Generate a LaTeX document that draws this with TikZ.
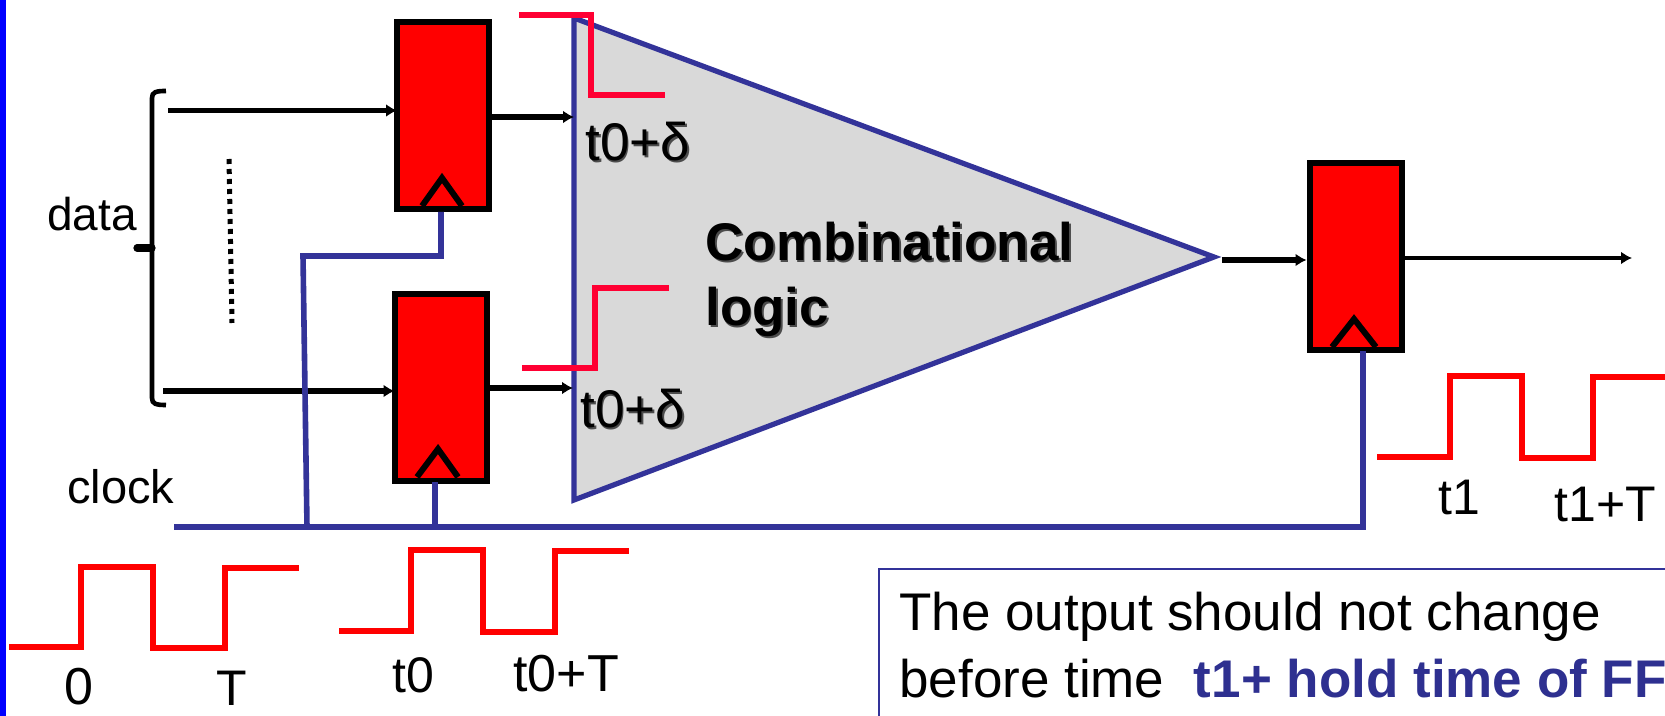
\documentclass[tikz,border=0pt]{standalone}
\usepackage{fontspec}
\setmainfont{Liberation Sans}
\usetikzlibrary{arrows.meta}
\definecolor{logicblue}{HTML}{333399}
\definecolor{holdblue}{HTML}{2E3090}
\definecolor{pulsered}{HTML}{FF0033}
\definecolor{logicgray}{HTML}{D9D9D9}
\newcommand{\softshadow}[1]{\leavevmode\rlap{\kern0.9pt\raisebox{-0.9pt}{\textcolor{black!70}{#1}}}#1}
\tikzset{
  ffbox/.style={draw=black,fill=red,line width=3pt,minimum width=46pt,inner sep=0pt},
  clkmark/.style={line width=3pt,line join=miter},
  sigline/.style={line width=2.6pt,-{Latex[length=5.5pt,width=6.5pt]}},
  clkline/.style={draw=logicblue,line width=2.8pt},
  wave/.style={draw=red,line width=3pt},
  hazard/.style={draw=pulsered,line width=3pt},
  lbl/.style={anchor=base west,inner sep=0pt,font=\fontsize{25}{25}\selectfont},
}
\begin{document}
\begin{tikzpicture}[x=0.5pt,y=-0.5pt]
  \clip (0,0) rectangle (1665,716);
  \fill[blue] (0,0) rectangle (5.5,716);
  % logic cone
  \coordinate (conetop) at (574,18);
  \coordinate (conebot) at (574,500);
  \coordinate (coneapex) at (1214,257);
  \filldraw[fill=logicgray,draw=logicblue,line width=2.6pt] (conetop) -- (coneapex) -- (conebot) -- cycle;
  \node[lbl,font=\fontsize{26.5}{32.5}\selectfont\bfseries,align=left,anchor=north west] (comb) at (705,222) {\softshadow{Combinational}\\\softshadow{logic}};
  % flip flops
  \node[ffbox,minimum height=93.5pt] (ff1) at (443,115.5) {};
  \node[ffbox,minimum height=93.5pt] (ff2) at (440.5,387.5) {};
  \node[ffbox,minimum height=93.5pt] (ff3) at (1355.5,257) {};
  \draw[clkmark] (422,206) -- (442,178) -- (462,206);
  \draw[clkmark] (417,477) -- (438,449) -- (458,477);
  \draw[clkmark] (1332,347) -- (1354,319) -- (1376,347);
  % data side
  \coordinate (din1) at (168,110.5);
  \coordinate (din2) at (163,391);
  \coordinate (cin1) at (574,117);
  \coordinate (cin2) at (573,388);
  \coordinate (lout) at (1222,260);
  \coordinate (qout) at (1632,258);
  \draw[line width=2.3pt] (166,91) .. controls (156,91) and (152,92) .. (152,98) -- (152,398) .. controls (152,404) and (156,405) .. (166,405);
  \draw[line width=3.6pt,line cap=round] (137,248) -- (152,248);
  \draw[line width=2.5pt,dash pattern=on 2.5pt off 2.5pt] (229,159) -- (232,323);
  \draw[sigline,shorten >=-1.5pt] (din1) -- (din1 -| ff1.west);
  \draw[sigline,shorten >=-1.5pt] (din2) -- (din2 -| ff2.west);
  \draw[sigline] (cin1 -| ff1.east) -- (cin1);
  \draw[sigline] (cin2 -| ff2.east) -- (cin2);
  \draw[sigline] (lout) -- (lout -| ff3.west);
  \draw[sigline,line width=2.1pt] (qout -| ff3.east) -- (qout);
  % clock net
  \coordinate (clkstart) at (174,527);
  \coordinate (clkturn) at (1363,527);
  \draw[clkline] (clkstart) -- (clkturn) -- (1363,351);
  \draw[clkline] (ff1.south -| 441,0) -- (441,256) -- (303,256) -- (307,527);
  \draw[clkline] (435,482) -- (435,527);
  % pulses at the cone
  \draw[hazard] (519,15) -- (591,15) -- (591,95) -- (665,95);
  \draw[hazard] (669,288) -- (595,288) -- (595,368) -- (522,368);
  \node[lbl,font=\fontsize{26.5}{26.5}\selectfont] (d1) at (585,161) {\softshadow{t0+δ}};
  \node[lbl,font=\fontsize{26.5}{26.5}\selectfont] (d2) at (580,428) {\softshadow{t0+δ}};
  % clock waveforms
  \draw[wave] (9,647) -- (81,647) -- (81,567) -- (153,567) -- (153,648) -- (225,648) -- (225,568) -- (299,568);
  \draw[wave] (339,631) -- (411,631) -- (411,550) -- (483,550) -- (483,632) -- (555,632) -- (555,551) -- (629,551);
  \draw[wave] (1377,457) -- (1450,457) -- (1450,376) -- (1522,376) -- (1522,458) -- (1593,458) -- (1593,377) -- (1670,377);
  % labels
  \node[lbl,font=\fontsize{23}{23}\selectfont] (data) at (47,231) {data};
  \node[lbl,font=\fontsize{23.5}{23.5}\selectfont] (clock) at (67,503) {clock};
  \node[lbl,font=\fontsize{26}{26}\selectfont] (zero) at (64,704) {0};
  \node[lbl] (tt) at (216,705) {T};
  \node[lbl] (t0) at (392,692) {t0};
  \node[lbl,font=\fontsize{26}{26}\selectfont] (t0T) at (513,691) {t0+T};
  \node[lbl] (t1) at (1438,515) {t1};
  \node[lbl] (t1T) at (1554,521) {t1+T};
  % note
  \draw[draw=logicblue,line width=1.4pt] (879,725) -- (879,569) -- (1675,569);
  \node[lbl,font=\fontsize{26.5}{33.5}\selectfont,align=left,anchor=north west] (note) at (899,592) {The output should not change\\before time\ \ \textcolor{holdblue}{\bfseries t1+ hold time of FF}};
\end{tikzpicture}
\end{document}
